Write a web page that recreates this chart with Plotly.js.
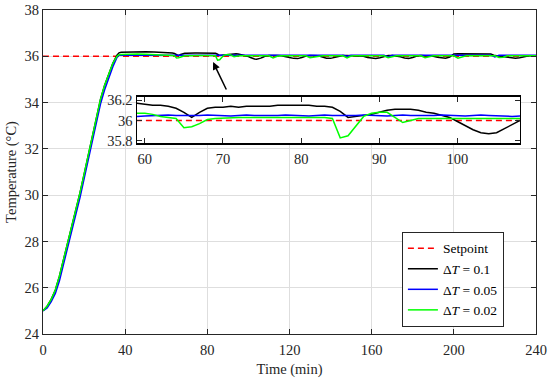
<!DOCTYPE html>
<html>
<head>
<meta charset="utf-8">
<script src="https://cdn.plot.ly/plotly-3.0.1.min.js"></script>
<style>html,body{margin:0;padding:0;background:#fff;}#chart{width:550px;height:380px;}</style>
</head>
<body>
<div id="chart"></div>
<script>
// Time (min)
const time = [
  0,2,4,6,8,10,12,14,16,18,20,22,24,26,28,30,32,34,36,37,
  38,42,46,50,54,58,
  59,60,61,62,63,64,65,66,67,68,69,70,71,72,73,74,75,76,77,78,79,80,81,82,83,84,
  85,86,87,88,89,90,91,92,93,94,95,96,97,98,99,100,101,102,103,104,105,106,107,108,
  110,112,114,116,118,120,122,124,126,128,130,132,134,136,138,140,142,144,146,148,
  150,152,154,156,158,160,162,164,166,168,170,172,174,176,178,180,182,184,186,188,
  190,192,194,196,198,200,202,204,206,208,210,212,214,216,218,220,222,224,226,228,
  230,232,234,236,238,240
];
// ΔT = 0.1 (black)
const dT01 = [
  25.0,25.2,25.5,25.9,26.5,27.2,27.9,28.6,29.35,30.1,30.9,31.75,32.6,33.4,34.15,34.75,35.25,35.7,36.05,36.15,
  36.17,36.19,36.2,36.2,36.19,36.18,
  36.17,36.16,36.15,36.15,36.14,36.12,36.08,36.03,36.08,36.12,36.13,36.13,36.14,36.13,36.14,36.14,36.14,36.14,36.15,36.15,36.15,36.155,36.15,36.14,36.14,36.13,
  36.09,36.03,36.04,36.05,36.06,36.08,36.1,36.11,36.11,36.11,36.1,36.08,36.07,36.05,36.03,35.99,35.95,35.91,35.88,35.87,35.88,35.92,35.96,36.0,
  36.03,36.04,36.03,36.02,36.0,35.95,35.91,35.9,35.95,36.01,36.03,36.03,36.02,35.97,35.92,35.91,35.95,36.01,36.03,36.03,
  36.03,36.02,36.02,36.0,35.95,35.91,35.9,35.94,36.0,36.03,36.03,36.02,35.98,35.93,35.91,35.95,36.01,36.03,36.03,36.02,
  36.0,35.96,35.93,35.92,35.97,36.1,36.11,36.11,36.11,36.11,36.11,36.12,36.12,36.11,36.1,36.03,36.01,36.0,35.96,35.93,
  35.92,35.94,35.98,36.01,36.02,36.02
];
// ΔT = 0.05 (blue)
const dT005 = [
  25.0,25.12,25.4,25.75,26.3,27.0,27.7,28.4,29.15,29.9,30.7,31.55,32.4,33.2,33.95,34.55,35.05,35.55,35.95,36.05,
  36.05,36.06,36.05,36.06,36.05,36.05,
  36.04,36.045,36.05,36.05,36.055,36.05,36.05,36.045,36.05,36.055,36.05,36.05,36.045,36.05,36.055,36.05,36.05,36.045,36.05,36.055,36.05,36.05,36.045,36.05,36.055,36.05,
  36.05,36.045,36.05,36.055,36.05,36.05,36.045,36.05,36.055,36.05,36.05,36.045,36.05,36.055,36.05,36.05,36.045,36.05,36.055,36.05,36.045,36.04,36.04,36.045,
  36.05,36.05,36.05,36.05,36.05,36.05,36.05,36.05,36.05,36.05,36.05,36.05,36.05,36.05,36.05,36.05,36.05,36.05,36.05,36.0,
  36.05,36.05,36.05,36.05,36.05,36.05,36.05,36.05,36.05,35.97,36.05,36.05,36.05,36.05,36.05,36.05,36.05,36.05,36.05,36.05,
  36.05,36.05,36.05,36.05,36.05,36.05,36.05,36.05,36.05,36.05,36.05,36.05,36.05,36.05,36.05,35.97,36.05,36.05,36.05,36.05,
  36.05,36.05,36.05,36.05,36.05,36.05
];
// ΔT = 0.02 (green)
const dT002 = [
  25.0,25.2,25.5,25.9,26.5,27.2,27.9,28.6,29.35,30.1,30.9,31.75,32.6,33.4,34.15,34.75,35.25,35.7,36.0,36.07,
  36.08,36.1,36.1,36.09,36.08,36.07,
  36.07,36.07,36.06,36.04,36.03,36.02,35.93,35.94,35.97,36.01,36.02,36.025,36.03,36.03,36.03,36.03,36.03,36.03,36.03,36.03,36.03,36.03,36.03,36.03,36.03,36.02,
  35.83,35.85,35.95,36.04,36.07,36.08,36.08,36.03,35.98,36.0,36.02,36.02,36.02,36.02,36.02,36.02,36.02,36.02,36.02,36.02,36.02,36.02,36.02,36.02,
  36.02,35.93,36.0,36.02,36.02,36.02,36.02,36.02,36.02,36.02,35.94,35.97,36.02,36.02,36.02,36.02,36.02,36.02,36.02,35.93,
  36.01,36.02,36.02,36.02,36.02,36.02,36.02,36.02,36.02,35.94,35.99,36.02,36.02,36.02,36.02,36.02,36.02,36.02,35.94,35.98,
  36.02,36.02,36.02,36.02,36.02,36.02,35.92,35.96,36.02,36.02,36.02,36.02,36.02,36.02,36.02,36.02,35.95,35.96,36.02,36.02,
  36.02,36.02,36.02,36.02,36.02,36.02
];
const setpointX = [0, 240];
const setpointY = [36, 36];
const xTicks = [0, 40, 80, 120, 160, 200, 240];
const yTicks = [24, 26, 28, 30, 32, 34, 36, 38];
const insetXTicks = [60, 70, 80, 90, 100];
const insetYTicks = [35.8, 36, 36.2];
const insetYLabels = ['35.8', '36', '36.2'];

const F = 'Liberation Serif, Times New Roman, serif';
const colors = {sp: '#ff0000', a: '#000000', b: '#0000ff', c: '#00ff00'};

function series(y, name, color, xa, ya, legend) {
  return {x: time, y: y, name: name, type: 'scatter', mode: 'lines',
    line: {color: color, width: 1.5}, xaxis: xa, yaxis: ya, showlegend: legend};
}
const traces = [
  {x: setpointX, y: setpointY, name: 'Setpoint', mode: 'lines', type: 'scatter',
   line: {color: colors.sp, width: 1.5, dash: '6px,4px'}, xaxis: 'x', yaxis: 'y'},
  series(dT01, 'Δ<i>T</i> = 0.1', colors.a, 'x', 'y', true),
  series(dT005, 'Δ<i>T</i> = 0.05', colors.b, 'x', 'y', true),
  series(dT002, 'Δ<i>T</i> = 0.02', colors.c, 'x', 'y', true),
  {x: setpointX, y: setpointY, mode: 'lines', type: 'scatter', showlegend: false,
   line: {color: colors.sp, width: 1.5, dash: '6px,4px'}, xaxis: 'x2', yaxis: 'y2'},
  series(dT01, '', colors.a, 'x2', 'y2', false),
  series(dT005, '', colors.b, 'x2', 'y2', false),
  series(dT002, '', colors.c, 'x2', 'y2', false)
];

const axBase = {
  ticks: 'inside', ticklen: 5, tickcolor: '#262626', showline: true, linecolor: '#262626',
  linewidth: 1, mirror: 'ticks', zeroline: false, tickfont: {family: F, size: 14.5, color: '#262626'}
};
const layout = {
  width: 550, height: 380,
  margin: {l: 43, r: 14, t: 10, b: 46},
  paper_bgcolor: '#ffffff', plot_bgcolor: '#ffffff',
  font: {family: F, size: 14, color: '#262626'},
  xaxis: Object.assign({}, axBase, {range: [0, 240], tickvals: xTicks, showgrid: true, gridcolor: '#dedede',
    ticklabelstandoff: 3,
    title: {text: 'Time (min)', font: {family: F, size: 14.5, color: '#262626'}, standoff: 6}, domain: [0, 1]}),
  yaxis: Object.assign({}, axBase, {range: [24, 38], tickvals: yTicks, showgrid: true, gridcolor: '#dedede',
    title: {text: 'Temperature (°C)', font: {family: F, size: 14.5, color: '#262626'}, standoff: 4}, domain: [0, 1]}),
  xaxis2: Object.assign({}, axBase, {anchor: 'y2', domain: [0.1907, 0.9675], range: [59, 108],
    tickvals: insetXTicks, showgrid: false, linecolor: '#000', linewidth: 1.5, ticklabelstandoff: 2}),
  yaxis2: Object.assign({}, axBase, {anchor: 'x2', domain: [0.5895, 0.7315], range: [35.78, 36.23],
    tickvals: insetYTicks, ticktext: insetYLabels, showgrid: false, linecolor: '#000', linewidth: 1.5}),
  legend: {x: 0.728, y: 0.315, xanchor: 'left', yanchor: 'top', bgcolor: '#ffffff',
    bordercolor: '#262626', borderwidth: 1, font: {family: F, size: 13.5, color: '#000'},
    tracegroupgap: 0, itemwidth: 30},
  annotations: [{x: 82.8, y: 35.75, ax: 89.6, ay: 34.5, xref: 'x', yref: 'y', axref: 'x', ayref: 'y',
    showarrow: true, arrowhead: 2, arrowsize: 1, arrowwidth: 1.5, arrowcolor: '#000', text: ''}]
};
Plotly.newPlot('chart', traces, layout, {displayModeBar: false, staticPlot: true});
</script>
</body>
</html>
